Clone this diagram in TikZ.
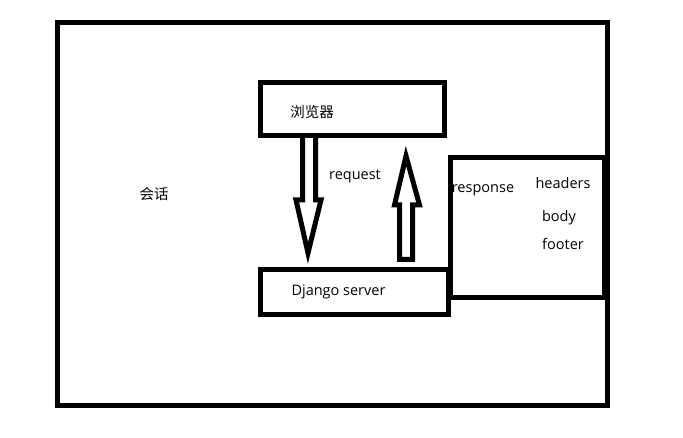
\documentclass[tikz,border=0pt]{standalone}
\usepackage{fontspec}
\setmainfont{Open Sans}
\newfontfamily\cjk{Noto Sans CJK SC}
\usetikzlibrary{calc}
\usetikzlibrary{positioning}

\begin{document}
\begin{tikzpicture}[x=1pt, y=-1pt,
		box/.style={draw, line width=5pt, inner sep=0pt},
		word/.style={inner sep=0pt, font=\fontsize{14.5}{17}\selectfont},
		blockarrow/.style={draw, line width=5pt, line join=miter}]
		\useasboundingbox (0,0) rectangle (683,438);

		\path
		(332.5,213.75) node[box, minimum width=550pt, minimum height=382.5pt] (session) {}
		(352,109.25) node[box, minimum width=184pt, minimum height=52.5pt] (browser) {}
		(527,227.5) node[box, minimum width=154pt, minimum height=140pt] (response) {}
		(354,292.25) node[box, minimum width=188pt, minimum height=45.5pt] (server) {};

		\path
		(154,194) node[word] (sessiontext) {\cjk 会话}
		(312,112) node[word] (browsertext) {\cjk 浏览器}
		(338.5,292) node[word] (servertext) {Django server}
		(355,176) node[word] (requesttext) {request}
		(483,190) node[word] (responsetext) {response}
		(563,183) node[word] (headers) {headers}
		(559,218) node[word] (body) {body}
		(563,244) node[word] (footer) {footer};

		% request: browser -> server
		\draw[blockarrow] (302.5,0 |- browser.south) -- (302.5,200) -- (296,200) -- (308,253)
			-- (321,200) -- (315.5,200) -- (315.5,0 |- browser.south);
		% response: server -> browser
		\draw[blockarrow] (399.5,259.5) -- (399.5,205) -- (394.5,205) -- (406,156)
			-- (419.5,205) -- (412.5,205) -- (412.5,259.5) -- cycle;
\end{tikzpicture}
\end{document}
